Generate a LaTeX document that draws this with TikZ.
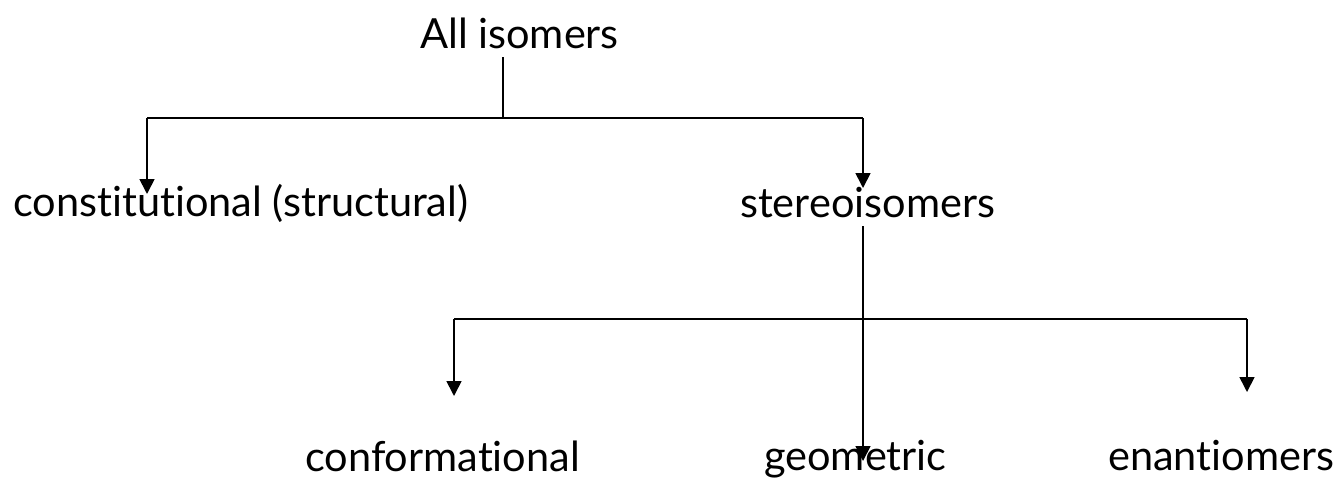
\documentclass[tikz,border=0pt]{standalone}
\usepackage{fontspec}
\setmainfont[Ligatures={NoCommon,NoRequired,NoContextual}]{Lato}
\usetikzlibrary{arrows.meta}
\begin{document}
\begin{tikzpicture}[x=1pt,y=1pt,
  lbl/.style={inner sep=0pt,anchor=base west,font=\fontsize{41.5}{48}\selectfont},
  conn/.style={line width=1.7pt},
  arr/.style={conn,-{Triangle[width=15pt,length=15pt]}}]
\useasboundingbox (0,0) rectangle (1335,-482);
\node[lbl] (all) at (420,-48) {All isomers};
\node[lbl] (cons) at (13,-216) {constitutional (structural)};
\node[lbl] (stereo) at (740,-217) {stereoisomers};
\node[lbl] (conf) at (305,-471) {conformational};
\node[lbl] (geo) at (764,-470) {geometric};
\node[lbl] (enan) at (1108,-470) {enantiomers};
% first level
\coordinate (a0) at (503,-57);
\coordinate (a1) at (503,-118);
\coordinate (aL) at (147,-118);
\coordinate (aR) at (863,-118);
\coordinate (tc) at (147,-194);
\coordinate (ts) at (863,-188);
\draw[conn] (a0) -- (a1);
\draw[conn] (aL) -- (aR);
\draw[arr] (aL) -- (tc);
\draw[arr] (aR) -- (ts);
% second level
\coordinate (s0) at (863,-226);
\coordinate (tg) at (863,-461);
\coordinate (bL) at (454,-319);
\coordinate (bR) at (1247,-319);
\coordinate (tf) at (454,-396);
\coordinate (te) at (1247,-392);
\draw[arr] (s0) -- (tg);
\draw[conn] (bL) -- (bR);
\draw[arr] (bL) -- (tf);
\draw[arr] (bR) -- (te);
\end{tikzpicture}
\end{document}
